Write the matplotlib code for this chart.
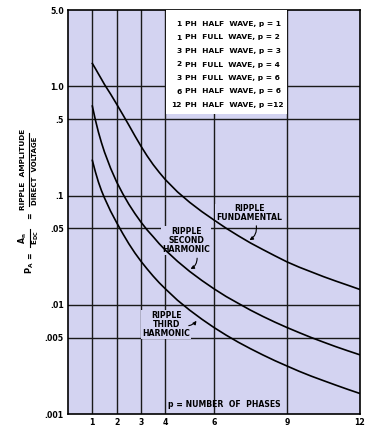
import matplotlib
matplotlib.use("Agg")
import matplotlib.pyplot as plt
from matplotlib.patches import Rectangle
from matplotlib.lines import Line2D

plt.rcParams['font.family'] = ['DejaVu Sans']
plt.rcParams['font.weight'] = 'bold'
plt.rcParams['mathtext.fontset'] = 'dejavusans'

# number of phases p
phases = [1, 1.125, 1.25, 1.375, 1.5, 1.75, 2, 2.25, 2.5, 2.75, 3, 3.25, 3.5, 3.75, 4,
          4.5, 5, 5.5, 6, 6.5, 7, 7.5, 8, 8.5, 9, 9.5, 10, 10.5, 11, 11.5, 12]

# ripple amplitude / dc voltage
fundamental = [1.62, 1.455, 1.30, 1.164, 1.04, 0.85, 0.687, 0.552, 0.442, 0.352, 0.283,
               0.231, 0.192, 0.163, 0.140, 0.108, 0.0867, 0.0713, 0.0597, 0.0502, 0.0428,
               0.0368, 0.0321, 0.0281, 0.0247, 0.0221, 0.0200, 0.0181, 0.0165, 0.0151, 0.0138]
second = [0.66, 0.493, 0.381, 0.305, 0.25, 0.178, 0.133, 0.104, 0.0833, 0.0684, 0.0571,
          0.0485, 0.042, 0.0362, 0.0317, 0.025, 0.0202, 0.0167, 0.014, 0.0119, 0.0103,
          0.00893, 0.00784, 0.00694, 0.00619, 0.00556, 0.00501, 0.00455, 0.00414,
          0.00379, 0.00348]
third = [0.21, 0.165, 0.133, 0.111, 0.095, 0.072, 0.0565, 0.0449, 0.0362, 0.0298, 0.025,
         0.0213, 0.0183, 0.0159, 0.014, 0.011, 0.00893, 0.00738, 0.00619, 0.00527, 0.00454,
         0.00396, 0.00348, 0.00308, 0.00275, 0.00246, 0.00222, 0.00202, 0.00184,
         0.00168, 0.00154]

xticks = [1, 2, 3, 4, 6, 9, 12]
xticklabels = ['1', '2', '3', '4', '6', '9', '12']
yticks = [5.0, 1.0, 0.5, 0.1, 0.05, 0.01, 0.005, 0.001]
yticklabels = ['5.0', '1.0', '.5', '.1', '.05', '.01', '.005', '.001']

legend_nums = ['1', '1', '3', '2', '3', '6', '12']
legend_text = ['PH  HALF  WAVE, p = 1', 'PH  FULL  WAVE, p = 2', 'PH  HALF  WAVE, p = 3',
               'PH  FULL  WAVE, p = 4', 'PH  FULL  WAVE, p = 6', 'PH  HALF  WAVE, p = 6',
               'PH  HALF  WAVE, p =12']

bg = '#d3d3f1'
fs = 5.6

fig = plt.figure(figsize=(3.8, 4.32), dpi=100)
ax = fig.add_axes([68/380, 1-414/432, 292/380, 404/432])
ax.set_facecolor(bg)
ax.set_yscale('log')
ax.set_xlim(0, 12)
ax.set_ylim(0.001, 5.0)

for x in xticks[:-1]:
    ax.axvline(x, color='#1a1a1a', lw=1.0, zorder=1)
for y in yticks[1:-1]:
    ax.axhline(y, color='#1a1a1a', lw=1.0, zorder=1)

ax.plot(phases, fundamental, color='black', lw=1.2, zorder=3)
ax.plot(phases, second, color='black', lw=1.2, zorder=3)
ax.plot(phases, third, color='black', lw=1.2, zorder=3)

ax.set_xticks(xticks)
ax.set_xticklabels(xticklabels)
ax.set_yticks(yticks)
ax.set_yticklabels(yticklabels)
ax.minorticks_off()
ax.tick_params(length=0, labelsize=fs, pad=3)
for s in ax.spines.values():
    s.set_linewidth(1.2)

# legend box
ax.add_patch(Rectangle((0.336, 0.7426), 0.414, 0.2574, transform=ax.transAxes,
                       facecolor='white', edgecolor='none', zorder=4))
for i, (n, t) in enumerate(zip(legend_nums, legend_text)):
    yy = 1 - (14 + 13.5*i) / 404
    ax.text(0.389, yy, n, transform=ax.transAxes, ha='right', va='center',
            fontsize=5.4, fontweight='bold', zorder=5)
    ax.text(0.40, yy, t, transform=ax.transAxes, ha='left', va='center',
            fontsize=5.4, fontweight='bold', zorder=5)

lab = dict(ha='center', va='center', fontsize=fs, fontweight='bold', linespacing=1.0,
           zorder=2.5, bbox=dict(facecolor=bg, edgecolor='none', pad=0.5))
arr = dict(arrowstyle='-|>', color='black', lw=0.8, mutation_scale=5)

ax.text(7.44, 0.0687, 'RIPPLE\nFUNDAMENTAL', **lab)
ax.annotate('', xy=(7.36, 0.038), xytext=(7.72, 0.056),
            arrowprops=dict(connectionstyle='arc3,rad=-0.4', **arr), zorder=5)

ax.text(4.85, 0.0388, 'RIPPLE\nSECOND\nHARMONIC', **lab)
ax.annotate('', xy=(4.93, 0.0208), xytext=(5.30, 0.0283),
            arrowprops=dict(connectionstyle='arc3,rad=-0.4', **arr), zorder=5)

ax.text(4.03, 0.0066, 'RIPPLE\nTHIRD\nHARMONIC', **lab)
ax.annotate('', xy=(5.34, 0.0075), xytext=(4.85, 0.0064),
            arrowprops=dict(connectionstyle='arc3,rad=0.3', **arr), zorder=5)

ax.text(4.11, 0.00121, 'p = NUMBER  OF  PHASES', ha='left', va='center',
        fontsize=fs, fontweight='bold', zorder=5)

# y axis label, built up by hand: P_A = A_n / E_DC = RIPPLE AMPLITUDE / DIRECT VOLTAGE
W, H = 380, 432
def ftxt(px, py, s, size=5.6):
    fig.text(px/W, 1-py/H, s, rotation=90, ha='center', va='center',
             fontsize=size, fontweight='bold')

ftxt(23, 169, 'RIPPLE  AMPLITUDE', 5.3)
ftxt(35, 171, 'DIRECT  VOLTAGE', 5.0)
fig.add_artist(Line2D([29/W, 29/W], [1-133/H, 1-206/H], color='black', lw=0.8))
ftxt(30, 216, '=')
ftxt(23, 238, r'$\mathbf{A_n}$', 5.6)
ftxt(36, 238, r'$\mathbf{E_{DC}}$', 5.2)
fig.add_artist(Line2D([29.5/W, 29.5/W], [1-229/H, 1-247/H], color='black', lw=0.8))
ftxt(30, 256, '=')
ftxt(30, 268, r'$\mathbf{P_A}$', 6)

fig.savefig('out.png', dpi=100)
